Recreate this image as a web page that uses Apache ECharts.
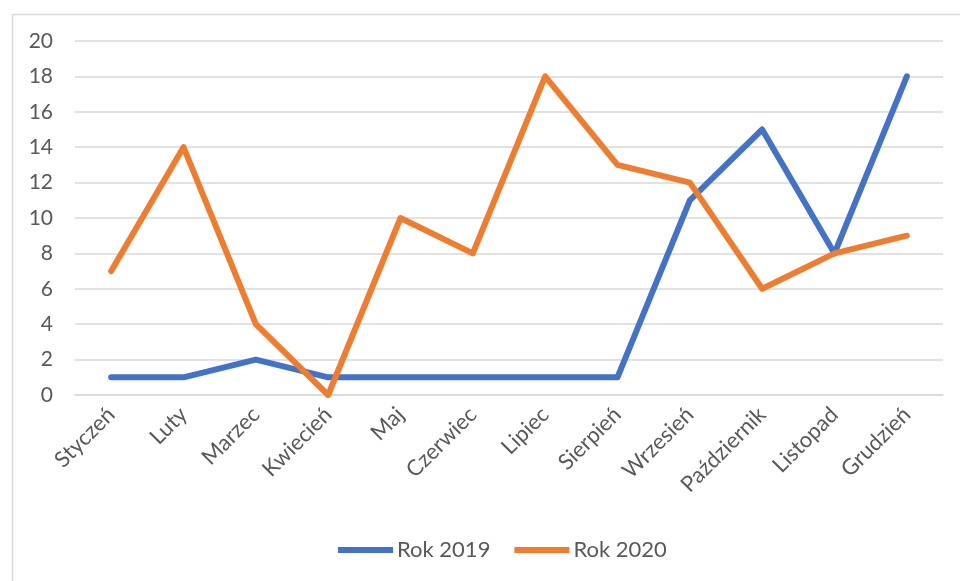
<!DOCTYPE html>
<html>
<head>
<meta charset="utf-8">
<script src="https://cdn.jsdelivr.net/npm/echarts@6/dist/echarts.min.js"></script>
<style>html,body{margin:0;padding:0;background:#fff;}#c{width:960px;height:581px;}</style>
</head>
<body>
<div id="c"></div>
<script>
const categories = ['Styczeń','Luty','Marzec','Kwiecień','Maj','Czerwiec','Lipiec','Sierpień','Wrzesień','Październik','Listopad','Grudzień'];
const rok2019 = [1,1,2,1,1,1,1,1,11,15,8,18];
const rok2020 = [7,14,4,0,10,8,18,13,12,6,8,9];
const seriesNames = ['Rok 2019','Rok 2020'];

const font = 'Lato, "Open Sans", sans-serif';
const chart = echarts.init(document.getElementById('c'), null, {renderer:'canvas'});
chart.setOption({
  animation: false,
  backgroundColor: '#fff',
  graphic: [{
    type: 'rect', left: 10, top: 12,
    shape: {width: 1000, height: 1000},
    style: {fill: 'none', stroke: '#d9d9d9', lineWidth: 1.5},
    silent: true, z: -1
  }],
  grid: {left: 75, right: 17, top: 41, bottom: 186, containLabel: false},
  legend: {
    bottom: 15, left: 333,
    icon: 'rect', itemWidth: 55, itemHeight: 6, itemGap: 24,
    textStyle: {fontFamily: font, fontSize: 22, color: '#595959', padding: [0,0,0,-1]},
    data: seriesNames
  },
  xAxis: {
    type: 'category', data: categories, boundaryGap: true,
    axisLine: {lineStyle: {color: '#d9d9d9', width: 1.5}},
    axisTick: {show: false},
    axisLabel: {rotate: 45, margin: 16, interval: 0, fontFamily: font, fontSize: 22, color: '#595959'}
  },
  yAxis: {
    type: 'value', min: 0, max: 20, interval: 2,
    axisLine: {show: false}, axisTick: {show: false},
    splitLine: {lineStyle: {color: '#d9d9d9', width: 1.5}},
    axisLabel: {margin: 22, fontFamily: font, fontSize: 21, color: '#595959'}
  },
  series: [
    {name: seriesNames[0], type: 'line', data: rok2019, symbol: 'none', color: '#4472C4',
     lineStyle: {width: 6, color: '#4472C4', cap: 'round', join: 'round'}},
    {name: seriesNames[1], type: 'line', data: rok2020, symbol: 'none', color: '#ED7D31',
     lineStyle: {width: 6, color: '#ED7D31', cap: 'round', join: 'round'}}
  ]
});
</script>
</body>
</html>
